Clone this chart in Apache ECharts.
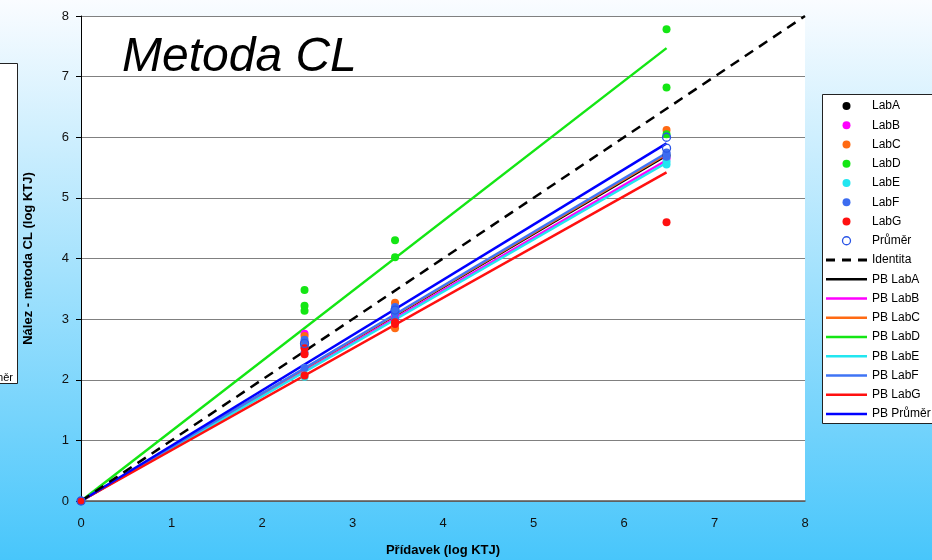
<!DOCTYPE html>
<html>
<head>
<meta charset="utf-8">
<script src="https://cdn.jsdelivr.net/npm/echarts@6/dist/echarts.min.js"></script>
<style>
html,body{margin:0;padding:0;}
#chart{width:932px;height:560px;}
</style>
</head>
<body>
<div id="chart"></div>
<script>
// ---- Data ----
const xTicks = [0, 1, 2, 3, 4, 5, 6, 7, 8];
const yTicks = [0, 1, 2, 3, 4, 5, 6, 7, 8];
const labNames = ['LabA', 'LabB', 'LabC', 'LabD', 'LabE', 'LabF', 'LabG', 'Průměr'];
const labColors = ['#000000', '#ff00ff', '#ff6a13', '#14e614', '#22e6f0', '#3c6cf0', '#ff1010', '#2a55e6'];

const pointsLabA = [[0, 0], [2.47, 2.58], [3.47, 3.1], [6.47, 5.7]];
const pointsLabB = [[0, 0], [2.47, 2.76], [3.47, 3.05], [6.47, 5.65]];
const pointsLabC = [[0, 0], [2.47, 2.72], [2.47, 2.62], [3.47, 3.27], [3.47, 2.85], [6.47, 6.12]];
const pointsLabD = [[0, 0], [2.47, 3.48], [2.47, 3.22], [2.47, 3.14], [3.47, 4.3], [3.47, 4.02], [6.47, 7.78], [6.47, 6.82], [6.47, 6.05]];
const pointsLabE = [[0, 0], [2.47, 2.05], [2.47, 2.55], [3.47, 3.15], [6.47, 5.55], [6.47, 5.6]];
const pointsLabF = [[0, 0], [2.47, 2.66], [2.47, 2.55], [2.47, 2.45], [2.47, 2.2], [3.47, 3.2], [3.47, 3.1], [3.47, 3.0], [6.47, 5.75], [6.47, 5.68], [6.47, 5.72]];
const pointsLabG = [[0, 0], [2.47, 2.52], [2.47, 2.42], [2.47, 2.07], [3.47, 2.95], [3.47, 2.92], [6.47, 4.6]];
const pointsPrumer = [[0, 0], [2.47, 2.6], [3.47, 3.15], [6.47, 6.0], [6.47, 5.82]];

const identityLine = [[0, 0], [8, 8]];
const pbNames = ['PB LabA', 'PB LabB', 'PB LabC', 'PB LabD', 'PB LabE', 'PB LabF', 'PB LabG', 'PB Průměr'];
const pbColors = ['#000000', '#ff00ff', '#ff6a13', '#14e614', '#22e6f0', '#3f74f5', '#ff1010', '#0000ff'];
const pbEndX = 6.47;
const pbEndY = [5.70, 5.62, 5.72, 7.47, 5.58, 5.74, 5.42, 5.90];

// ---- Chart ----
const FONT = 'Liberation Sans, Arial, sans-serif';
const chart = echarts.init(document.getElementById('chart'), null, {renderer: 'canvas'});
const allPoints = [pointsLabA, pointsLabB, pointsLabC, pointsLabD, pointsLabE, pointsLabF, pointsLabG, pointsPrumer];

const series = [];
labNames.forEach((n, i) => {
  const isAvg = n === 'Průměr';
  series.push({
    name: n,
    type: 'scatter',
    data: allPoints[i],
    symbol: 'circle',
    symbolSize: 8,
    z: 5,
    itemStyle: isAvg ? {color: 'rgba(255,255,255,0)', borderColor: labColors[i], borderWidth: 1.3, opacity: 1}
                     : {color: labColors[i], opacity: 1},
    emphasis: {disabled: true}
  });
});
series.push({
  name: 'Identita',
  type: 'line',
  data: identityLine,
  symbol: 'none',
  z: 3,
  itemStyle: {color: '#000'},
  lineStyle: {color: '#000', width: 2.5, type: [10, 7]},
  emphasis: {disabled: true}
});
pbNames.forEach((n, i) => {
  series.push({
    name: n,
    type: 'line',
    data: [[0, 0], [pbEndX, pbEndY[i]]],
    symbol: 'none',
    z: 2,
    itemStyle: {color: pbColors[i]},
    lineStyle: {color: pbColors[i], width: 2.5},
    emphasis: {disabled: true}
  });
});

const solidIcon = 'path://M0 0H41V2.5H0Z';
const dashIcon = 'path://M0 0H9V3H0Z M16 0H25V3H16Z M32 0H41V3H32Z';
const legendData = labNames.map(n => (n === 'Průměr'
    ? {name: n, itemStyle: {color: '#ffffff', borderColor: '#2a55e6', borderWidth: 1.3}}
    : {name: n}))
  .concat([{name: 'Identita', icon: dashIcon}])
  .concat(pbNames.map(n => ({name: n, icon: solidIcon})));

const option = {
  animation: false,
  backgroundColor: {
    type: 'linear', x: 0, y: 0, x2: 0, y2: 1,
    colorStops: [{offset: 0, color: '#fafcff'}, {offset: 1, color: '#48c6fb'}]
  },
  textStyle: {fontFamily: FONT},
  title: {
    text: 'Metoda CL',
    left: 117,
    top: 29,
    textStyle: {fontFamily: FONT, fontSize: 48, fontStyle: 'italic', fontWeight: 'normal', color: '#000'}
  },
  grid: {
    left: 81, right: 127, top: 16, bottom: 59,
    outerBoundsMode: 'none', containLabel: false,
    show: true, backgroundColor: '#ffffff', borderWidth: 0
  },
  xAxis: {
    type: 'value', min: 0, max: 8, interval: 1,
    name: 'Přídavek (log KTJ)',
    nameLocation: 'middle', nameGap: 43,
    nameTextStyle: {fontFamily: FONT, fontSize: 13, fontWeight: 'bold', color: '#000'},
    axisLine: {show: true, onZero: false, lineStyle: {color: '#555', width: 1.5}},
    axisTick: {show: false},
    axisLabel: {fontFamily: FONT, fontSize: 13, color: '#111', margin: 16,
      formatter: v => String(xTicks[xTicks.indexOf(v)] !== undefined ? v : v)},
    splitLine: {show: false}
  },
  yAxis: {
    type: 'value', min: 0, max: 8, interval: 1,
    name: 'Nález - metoda CL (log KTJ)',
    nameLocation: 'middle', nameGap: 46,
    nameTextStyle: {fontFamily: FONT, fontSize: 13, fontWeight: 'bold', color: '#000'},
    axisLine: {show: true, onZero: false, lineStyle: {color: '#000', width: 1}},
    axisTick: {show: true, length: 5, inside: false, lineStyle: {color: '#000'}},
    axisLabel: {fontFamily: FONT, fontSize: 13, color: '#111', margin: 12,
      formatter: v => String(yTicks[yTicks.indexOf(v)] !== undefined ? v : v)},
    splitLine: {show: true, lineStyle: {color: '#808080', width: 1}}
  },
  legend: {
    orient: 'vertical',
    left: 826, top: 99,
    padding: 0,
    itemWidth: 41, itemHeight: 8, itemGap: 5.25,
    selectedMode: false,
    data: legendData,
    textStyle: {fontFamily: FONT, fontSize: 12, color: '#000', lineHeight: 14}
  },
  graphic: [
    {type: 'rect', silent: true, z: -1, shape: {x: 822.5, y: 94.5, width: 130, height: 329},
      style: {fill: '#ffffff', stroke: '#222', lineWidth: 1}},
    {type: 'rect', silent: true, z: -1, shape: {x: -20, y: 63.5, width: 37.5, height: 320},
      style: {fill: '#ffffff', stroke: '#222', lineWidth: 1}},
    {type: 'text', silent: true, z: 0, x: 13, y: 378,
      style: {text: 'Průměr', fill: '#000', font: '11px ' + FONT, align: 'right', verticalAlign: 'middle'}}
  ],
  series: series
};
chart.setOption(option);
</script>
</body>
</html>
